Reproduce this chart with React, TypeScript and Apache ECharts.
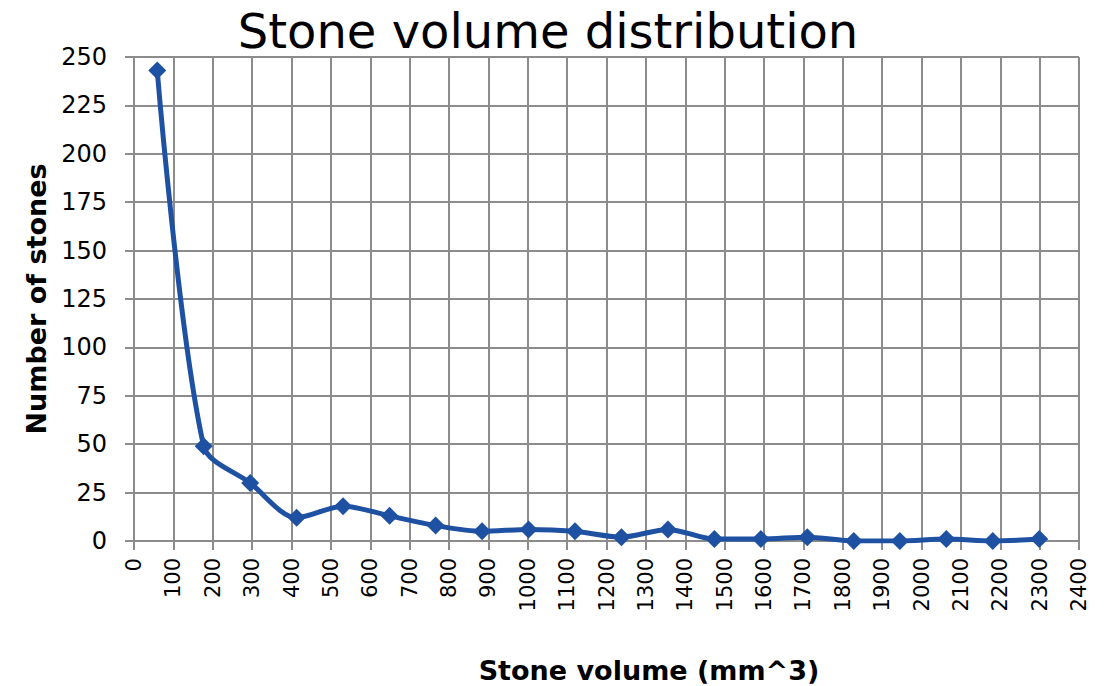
import React, { useEffect, useRef } from "react";
import * as echarts from "echarts";

const volumes = [59, 177, 295, 413, 531, 649, 766, 884, 1002, 1120, 1238, 1356, 1474, 1592, 1710, 1828, 1945, 2063, 2181, 2299];
const counts = [243, 49, 30, 12, 18, 13, 8, 5, 6, 5, 2, 6, 1, 1, 2, 0, 0, 1, 0, 1];

const FONT = "DejaVu Sans";
const GRAY = "#8c8c8c";
const BLUE = "#1f51a3";

export default function App() {
  const ref = useRef<HTMLDivElement>(null);
  useEffect(() => {
    if (!ref.current) return;
    const chart = echarts.init(ref.current, undefined, { renderer: "svg" });
    chart.setOption({
      animation: false,
      backgroundColor: "#ffffff",
      title: {
        text: "Stone volume distribution",
        left: 548,
        textAlign: "center",
        top: 7,
        padding: 0,
        textStyle: { fontFamily: FONT, fontSize: 48, lineHeight: 48, fontWeight: "normal", color: "#000" },
      },
      grid: { left: 134, right: 27, top: 57, bottom: 145, outerBoundsMode: "none", containLabel: false },
      xAxis: {
        type: "value",
        min: 0,
        max: 2400,
        interval: 100,
        name: "Stone volume (mm^3)",
        nameLocation: "middle",
        nameGap: 116,
        nameTextStyle: { fontFamily: FONT, fontSize: 27, fontWeight: "bold", color: "#000", padding: [0, 0, 0, 85] },
        axisLine: { show: true, lineStyle: { color: GRAY, width: 2 } },
        axisTick: { show: true, length: 9, lineStyle: { color: GRAY, width: 2 } },
        axisLabel: { rotate: 90, fontFamily: FONT, fontSize: 21, color: "#000", margin: 17, formatter: (v: number) => String(v) },
        splitLine: { show: true, lineStyle: { color: GRAY, width: 2 } },
      },
      yAxis: {
        type: "value",
        min: 0,
        max: 250,
        interval: 25,
        name: "Number of stones",
        nameLocation: "middle",
        nameGap: 84,
        nameTextStyle: { fontFamily: FONT, fontSize: 27, fontWeight: "bold", color: "#000" },
        axisLine: { show: true, lineStyle: { color: GRAY, width: 2 } },
        axisTick: { show: true, length: 9, lineStyle: { color: GRAY, width: 2 } },
        axisLabel: { fontFamily: FONT, fontSize: 24, color: "#000", margin: 27, formatter: (v: number) => String(v) },
        splitLine: { show: true, lineStyle: { color: GRAY, width: 2 } },
      },
      series: [
        {
          type: "line",
          data: volumes.map((v, i) => [v, counts[i]]),
          smooth: 0.3,
          symbol: "diamond",
          symbolSize: 18,
          showAllSymbol: true,
          lineStyle: { color: BLUE, width: 5 },
          itemStyle: { color: BLUE },
        },
      ],
    });
    return () => chart.dispose();
  }, []);
  return <div ref={ref} style={{ position: "fixed", left: 0, top: 0, width: 1106, height: 686 }} />;
}
